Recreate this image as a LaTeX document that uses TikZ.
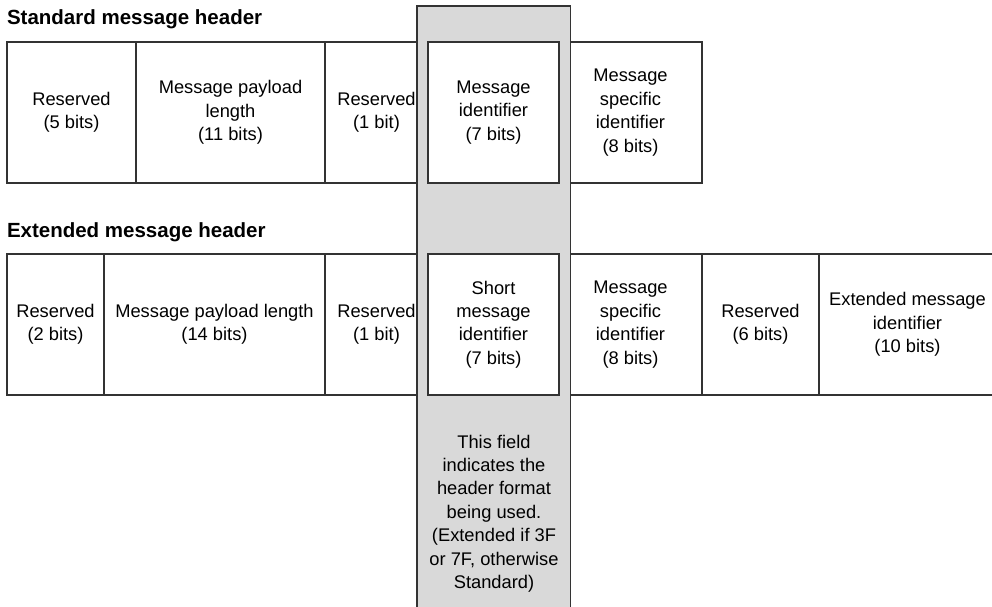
\documentclass[tikz,border=0pt]{standalone}
\usepackage{fontspec}
\setmainfont{Liberation Sans}
\definecolor{linec}{HTML}{333333}
\definecolor{colfill}{HTML}{D9D9D9}
\begin{document}
\begin{tikzpicture}[x=1pt,y=-1pt,
  every node/.style={inner sep=0pt, outer sep=0pt},
  fieldtxt/.style={font=\fontsize{18.3}{23.4}\selectfont, align=center, text=black},
  cellbox/.style={draw=linec, line width=1.1pt, fieldtxt, minimum height=141pt, anchor=north west},
  innerbox/.style={cellbox, fill=white},
  headtitle/.style={font=\fontsize{20.5}{24}\selectfont\bfseries, anchor=base west}]
\useasboundingbox (0,0) rectangle (992,606);
\clip (0,0) rectangle (992,606);

% ---- Standard message header ----
\node[headtitle] (stdtitle) at (7,24) {Standard message header};
\node[cellbox, minimum width=129pt] (s1) at (7,42) {Reserved\\(5 bits)};
\node[cellbox, minimum width=189pt] (s2) at (136,42) {Message payload\\length\\(11 bits)};
\node[cellbox, minimum width=103pt] (s3) at (325,42) {Reserved\\(1 bit)};
\node[cellbox, minimum width=143pt] (s5) at (559,42) {Message\\specific\\identifier\\(8 bits)};

% ---- Extended message header (last field runs off the right edge) ----
\node[headtitle] (exttitle) at (7,237.5) {Extended message header};
\node[cellbox, minimum width=97pt] (e1) at (7,254) {Reserved\\(2 bits)};
\node[cellbox, minimum width=221pt] (e2) at (104,254) {Message payload length\\(14 bits)};
\node[cellbox, minimum width=103pt] (e3) at (325,254) {Reserved\\(1 bit)};
\node[cellbox, minimum width=143pt] (e5) at (559,254) {Message\\specific\\identifier\\(8 bits)};
\node[cellbox, minimum width=117pt] (e6) at (702,254) {Reserved\\(6 bits)};
\node[cellbox, minimum width=177pt] (e7) at (819,254) {Extended message\\identifier\\(10 bits)};

% ---- shaded column marking the format field ----
\node[draw=linec, line width=1.1pt, fill=colfill, anchor=north west,
      minimum width=153.5pt, minimum height=640pt] (fmtcol) at (417,6) {};
\node[innerbox, minimum width=131pt] (s4) at (428,42) {Message\\identifier\\(7 bits)};
\node[innerbox, minimum width=131pt] (e4) at (428,254) {Short\\message\\identifier\\(7 bits)};
\node[fieldtxt] (note) at (494,513.5) {This field\\indicates the\\header format\\being used.\\(Extended if 3F\\or 7F, otherwise\\Standard)};
\end{tikzpicture}
\end{document}
